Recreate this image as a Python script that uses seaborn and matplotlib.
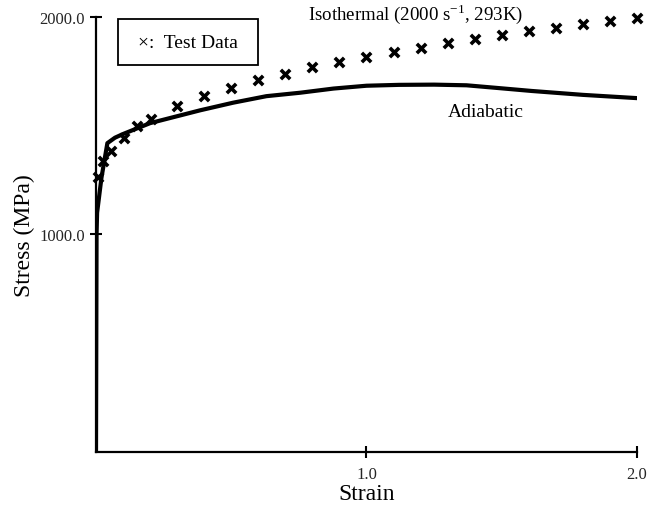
import matplotlib
matplotlib.use("Agg")
import matplotlib.pyplot as plt
from matplotlib.patches import Rectangle
import seaborn as sns
import pandas as pd

# Test data (isothermal, 2000 1/s, 293 K)
test_strain = [0.007, 0.026, 0.056, 0.104, 0.152, 0.204, 0.30, 0.40, 0.50, 0.60,
               0.70, 0.80, 0.90, 1.00, 1.10, 1.20, 1.30, 1.40, 1.50, 1.60,
               1.70, 1.80, 1.90, 2.00]
test_stress = [1263, 1336, 1382, 1442, 1498, 1530, 1590, 1636, 1673, 1710,
               1737, 1770, 1793, 1816, 1839, 1857, 1880, 1899, 1917, 1935,
               1949, 1968, 1982, 1995]

# Adiabatic model curve
adia_strain = [0.0, 0.002, 0.004, 0.02, 0.042, 0.07, 0.10, 0.20, 0.385, 0.507,
               0.63, 0.756, 0.878, 1.00, 1.12, 1.25, 1.37, 1.50, 1.61, 1.80, 2.00]
adia_stress = [0, 1000, 1100, 1260, 1420, 1445, 1462, 1512, 1571, 1606,
               1636, 1652, 1671, 1684, 1688, 1689, 1686, 1672, 1660, 1642, 1627]

x_ticks = [1.0, 2.0]
y_ticks = [1000, 2000]

sns.set_theme(style="ticks")
plt.rcParams["font.family"] = ["Liberation Serif", "DejaVu Serif"]

fig = plt.figure(figsize=(6.47, 5.10), dpi=100)
ax = fig.add_axes([0.1484, 0.1118, 0.8361, 0.8529])

adia = pd.DataFrame({"strain": adia_strain, "stress": adia_stress})
test = pd.DataFrame({"strain": test_strain, "stress": test_stress})

sns.lineplot(data=adia, x="strain", y="stress", sort=False, color="black",
             linewidth=3.0, ax=ax, zorder=3)
sns.scatterplot(data=test, x="strain", y="stress", marker="x", s=45,
                color="black", linewidth=2.6, ax=ax, zorder=4, clip_on=False)

ax.set_xlim(0, 2.0)
ax.set_ylim(0, 2000)
ax.set_xticks(x_ticks)
ax.set_yticks(y_ticks)
ax.set_xticklabels([f"{v:.1f}" for v in x_ticks], fontsize=12)
ax.set_yticklabels([f"{v:.1f}" for v in y_ticks], fontsize=12)
ax.tick_params(direction="inout", length=8, width=1.5, color="black")
ax.tick_params(axis="x", pad=6)
ax.tick_params(axis="y", pad=4)

for side in ("top", "right"):
    ax.spines[side].set_visible(False)
for side in ("left", "bottom"):
    ax.spines[side].set_linewidth(1.6)
    ax.spines[side].set_color("black")

ax.set_xlabel("Strain", fontsize=17, labelpad=1, color="black")
ax.set_ylabel("Stress (MPa)", fontsize=17, labelpad=3, color="black")

ax.text(0.785, 2020, r"Isothermal (2000 s$^{\mathregular{-1}}$, 293K)",
        fontsize=13.6, ha="left", va="center", color="black")
ax.text(1.30, 1565, "Adiabatic", fontsize=14, ha="left", va="center",
        color="black")

# Legend box for the test data markers
ax.add_patch(Rectangle((0.0815, 1779), 0.519, 212, facecolor="white",
                       edgecolor="black", linewidth=1.3, zorder=5,
                       clip_on=False))
ax.text(0.341, 1885, "\u00d7:  Test Data", fontsize=14, ha="center",
        va="center", color="black", zorder=6)

fig.savefig("out.png", dpi=100)
